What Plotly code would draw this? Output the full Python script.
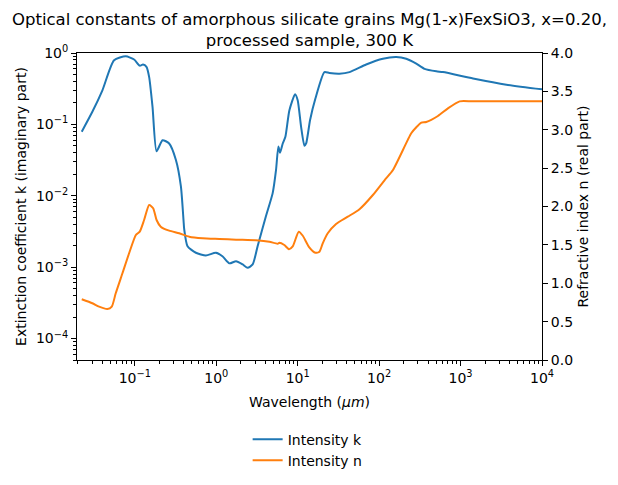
import numpy as np
import plotly.graph_objects as go

# ---- data ----
wl_k = [0.0223, 0.0301, 0.040, 0.0556, 0.0774, 0.098, 0.115, 0.126, 0.139, 0.150,
        0.165, 0.185, 0.219, 0.264, 0.319, 0.368, 0.396, 0.404, 0.444, 0.562,
        0.746, 0.99, 1.19, 1.45, 1.75, 2.11, 2.43, 2.80, 3.22, 4.08,
        4.93, 5.42, 5.79, 6.07, 6.55, 7.06, 7.91, 9.29, 10.0, 11.0,
        12.1, 12.7, 14.2, 16.5, 21.3, 24.5, 32.6, 43.3, 69.3, 111,
        162, 215, 286, 361, 504, 608, 1422, 3656, 10000]
k_vals = [0.079, 0.15, 0.30, 0.79, 0.90, 0.81, 0.665, 0.69, 0.64, 0.46,
          0.176, 0.042, 0.060, 0.054, 0.032, 0.0135, 0.0046, 0.0034, 0.00196, 0.00159,
          0.00146, 0.00159, 0.00142, 0.00113, 0.00121, 0.00109, 0.00098, 0.00109, 0.00196, 0.0052,
          0.0109, 0.023, 0.049, 0.040, 0.054, 0.067, 0.158, 0.265, 0.218, 0.093,
          0.050, 0.054, 0.115, 0.23, 0.54, 0.525, 0.514, 0.54, 0.69, 0.83,
          0.877, 0.83, 0.71, 0.60, 0.553, 0.54, 0.44, 0.36, 0.31]

wl_n = [0.0223, 0.0301, 0.0364, 0.046, 0.0521, 0.0583, 0.0705, 0.0851, 0.103, 0.115,
        0.130, 0.150, 0.168, 0.185, 0.208, 0.264, 0.351, 0.466, 0.679, 1.09,
        1.75, 3.08, 4.49, 5.68, 5.96, 6.85, 7.82, 8.69, 10.3, 11.5,
        13.8, 16.5, 18.5, 20.3, 23.4, 29.6, 41.2, 57.4, 83.8, 117,
        148, 248, 286, 330, 379, 527, 700, 975, 1422, 10000]
n_vals = [0.791, 0.739, 0.695, 0.664, 0.695, 0.869, 1.13, 1.391, 1.629, 1.672,
          1.824, 2.02, 1.977, 1.824, 1.737, 1.685, 1.651, 1.607, 1.586, 1.577,
          1.568, 1.56, 1.541, 1.515, 1.528, 1.498, 1.444, 1.48, 1.672, 1.622,
          1.472, 1.398, 1.411, 1.52, 1.651, 1.772, 1.867, 1.965, 2.15, 2.345,
          2.476, 2.954, 3.032, 3.092, 3.10, 3.179, 3.279, 3.37, 3.37, 3.37]

x_major = [0.1, 1, 10, 100, 1000, 10000]
x_major_text = ["10<sup>−1</sup>", "10<sup>0</sup>", "10<sup>1</sup>", "10<sup>2</sup>",
                "10<sup>3</sup>", "10<sup>4</sup>"]
y_major = [1e-4, 1e-3, 1e-2, 1e-1, 1]
y_major_text = ["10<sup>−4</sup>", "10<sup>−3</sup>", "10<sup>−2</sup>", "10<sup>−1</sup>", "10<sup>0</sup>"]
n_ticks = [0, 0.5, 1.0, 1.5, 2.0, 2.5, 3.0, 3.5, 4.0]

x_minor = [m * 10.0 ** e for e in range(-2, 4) for m in range(2, 10)]
y_minor = [m * 10.0 ** e for e in range(-5, 0) for m in range(2, 10)]

title_lines = ["Optical constants of amorphous silicate grains Mg(1-x)FexSiO3, x=0.20,",
               "processed sample, 300 K"]

FONT = "DejaVu Sans"
BLUE = "#1f77b4"
ORANGE = "#ff7f0e"

fig = go.Figure()
fig.add_trace(go.Scatter(x=wl_k, y=k_vals, mode="lines", name="Intensity k",
                         line=dict(color=BLUE, width=2, shape="spline", smoothing=0.6),
                         yaxis="y"))
fig.add_trace(go.Scatter(x=wl_n, y=n_vals, mode="lines", name="Intensity n",
                         line=dict(color=ORANGE, width=2, shape="spline", smoothing=0.6),
                         yaxis="y2"))

fig.add_annotation(text="<br>".join(title_lines), xref="paper", yref="paper",
                   x=0.5, y=1, xanchor="center", yanchor="bottom", yshift=1,
                   showarrow=False, align="center",
                   font=dict(family=FONT, size=16.5, color="black"))

# page body has an 8px margin, so the figure is shrunk by 8px and margins shifted
fig.update_layout(
    width=610, height=477,
    margin=dict(l=69, r=76, t=45, b=125, autoexpand=False),
    paper_bgcolor="white", plot_bgcolor="white",
    font=dict(family=FONT, size=14, color="black"),
    xaxis=dict(type="log", range=[np.log10(0.0195), 4], automargin=False,
               tickmode="array", tickvals=x_major, ticktext=x_major_text,
               ticks="outside", ticklen=5, tickwidth=1, tickcolor="black",
               showline=True, linecolor="black", linewidth=1, mirror=True,
               showgrid=False, zeroline=False,
               minor=dict(tickmode="array", tickvals=x_minor, ticks="outside",
                          ticklen=3, tickwidth=0.8, tickcolor="black", showgrid=False),
               title=dict(text="Wavelength (<i>μm</i>)", font=dict(size=14), standoff=12),
               tickfont=dict(size=14)),
    yaxis=dict(type="log", range=[np.log10(5e-5), 0], automargin=False,
               tickmode="array", tickvals=y_major, ticktext=y_major_text,
               ticks="outside", ticklen=5, tickwidth=1, tickcolor="black",
               showline=True, linecolor="black", linewidth=1,
               showgrid=False, zeroline=False,
               minor=dict(tickmode="array", tickvals=y_minor, ticks="outside",
                          ticklen=3, tickwidth=0.8, tickcolor="black", showgrid=False),
               title=dict(text="Extinction coefficient k (imaginary part)", font=dict(size=14), standoff=6),
               tickfont=dict(size=14)),
    yaxis2=dict(overlaying="y", side="right", range=[0, 4], automargin=False,
                tickmode="array", tickvals=n_ticks, ticktext=[f"{v:.1f}" for v in n_ticks],
                ticks="outside", ticklen=5, tickwidth=1, tickcolor="black",
                showline=True, linecolor="black", linewidth=1,
                showgrid=False, zeroline=False,
                title=dict(text="Refractive index n (real part)", font=dict(size=14), standoff=6),
                tickfont=dict(size=14)),
    legend=dict(orientation="v", x=0.496, xanchor="center", y=-0.207, yanchor="top",
                bgcolor="rgba(0,0,0,0)", font=dict(size=14), tracegroupgap=0),
    showlegend=True,
)

fig.write_html("out.html")
